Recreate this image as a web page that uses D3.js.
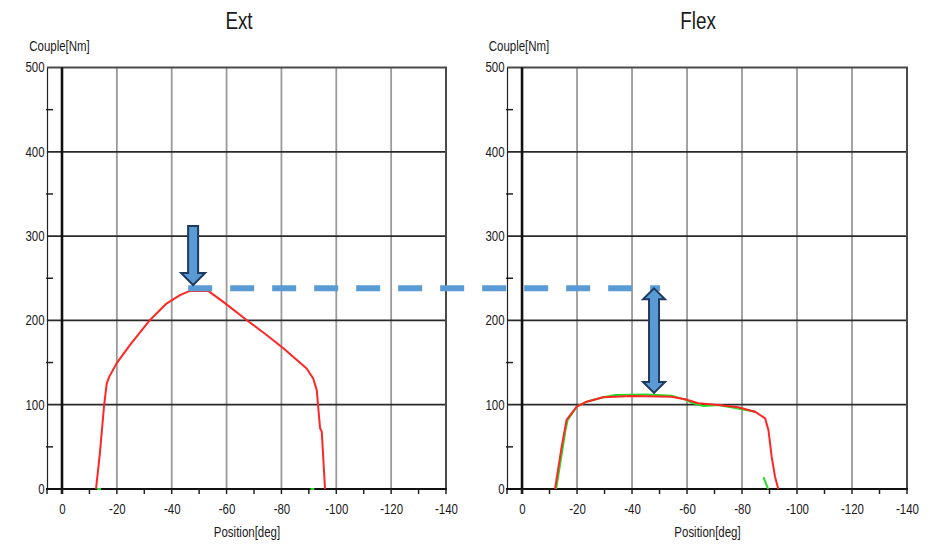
<!DOCTYPE html>
<html><head><meta charset="utf-8">
<script src="https://cdn.jsdelivr.net/npm/d3@7/dist/d3.min.js"></script>
<style>
body{margin:0;background:#fff}
svg{display:block}
text{font-family:"Liberation Sans",Arial,sans-serif;fill:#1a1a1a}
</style>
</head><body>
<svg id="chart" width="931" height="544"></svg>
<script>
// ---------- data ----------
const panelTitles = ["Ext", "Flex"];
const yLabel = "Couple[Nm]";
const xLabel = "Position[deg]";
const yTickValues = [0, 100, 200, 300, 400, 500];
const yMinorTicks = [50, 150, 250, 350, 450];
const xTickValues = [0, -20, -40, -60, -80, -100, -120, -140];
const xSmallTicks = [0, -10, -20, -30, -40, -50, -60, -70, -80, -90, -100, -110, -120, -130, -140];
const xGridValues = [-20, -40, -60, -80, -100, -120];

const extPosition = [-12.4, -13.8, -15.3, -16.3, -17.2, -19.9, -24.8, -32.1, -38.1, -43.0, -46.6, -53.3, -58.8, -67.3, -74.6, -80.7, -89.2, -91.6, -92.9, -93.4, -94.1, -94.7, -95.9];
const extTorque   = [0, 42, 97.6, 125, 133, 149, 171, 200.5, 220, 230, 235, 235, 222, 200.5, 182.7, 167, 143, 131, 117, 97.6, 72, 68, 0];

const flexPosition = [-12.0, -14.4, -16.2, -19.9, -23.5, -29.5, -39.9, -54.4, -59.3, -64.1, -71.4, -78.6, -84.7, -88.4, -89.6, -90.8, -92.0, -93.2];
const flexTorque   = [0, 50, 82, 97.6, 103.6, 108.8, 110.3, 109.5, 106.4, 101.7, 99.6, 97, 91.7, 83.8, 70, 38, 14.6, 0];

// second (green) trace, mostly hidden under the red one
const extGreenPosition = [-12.8, -14.2];
const extGreenTorque   = [0, 0];
const extGreenPosition2 = [-90.6, -92.0];
const extGreenTorque2   = [0, 0];
const flexGreenPosition = [-12.4, -14.6, -15.8, -16.6, -19.9, -23.5, -29.5, -34.0, -45.0, -54.4, -59.3, -62.0, -66.0, -71.4, -78.6, -84.7];
const flexGreenTorque   = [0, 45, 70, 82, 97.6, 103.6, 108.8, 111.5, 112, 110.5, 106, 102, 98.5, 99.6, 95.5, 91.7];
const flexGreenPosition2 = [-87.8, -89.5];
const flexGreenTorque2   = [14, 0];

// annotation values
const peakLineValue = [238];
const peakLineFrom = [-46.0];   // on Ext axis
const peakLineTo = [-50.2];     // on Flex axis
const downArrowX = [-47.8];
const downArrowTop = [312];
const downArrowTip = [242];
const diffArrowX = [-48.0];
const diffArrowTop = [238];
const diffArrowBottom = [114];

// ---------- layout ----------
const svg = d3.select("#chart");
const plotTop = 67.5, plotBottom = 489;
const squeeze = 0.82;
const panels = [
  {title: panelTitles[0], left: 47, right: 446, pos: extPosition, val: extTorque,
   green: [[extGreenPosition, extGreenTorque], [extGreenPosition2, extGreenTorque2]], titleX: 239, ylabX: 59.5},
  {title: panelTitles[1], left: 507, right: 907, pos: flexPosition, val: flexTorque,
   green: [[flexGreenPosition, flexGreenTorque], [flexGreenPosition2, flexGreenTorque2]], titleX: 698, ylabX: 519}
];

function label(x, yy, str, size) {
  svg.append("g").attr("transform", `translate(${x},${yy})`)
    .append("text").attr("text-anchor", "middle").attr("font-size", size)
    .attr("transform", `scale(${squeeze},1)`).text(str);
}

const y = d3.scaleLinear().domain([0, 500]).range([plotBottom, plotTop]);

panels.forEach(p => {
  const x = d3.scaleLinear().domain([5.47, -140]).range([p.left, p.right]);
  p.x = x;
  const g = svg.append("g");

  // vertical gray grid
  g.selectAll(".vg").data(xGridValues).enter().append("line")
    .attr("x1", d => x(d)).attr("x2", d => x(d))
    .attr("y1", plotTop).attr("y2", plotBottom)
    .attr("stroke", "#9a9a9a").attr("stroke-width", 1.8);

  // horizontal grid
  g.selectAll(".hg").data(yTickValues.filter(v => v > 0 && v < 500)).enter().append("line")
    .attr("x1", p.left).attr("x2", p.right)
    .attr("y1", d => y(d)).attr("y2", d => y(d))
    .attr("stroke", "#2a2a2a").attr("stroke-width", 1.8);

  // frame top / right
  g.append("line").attr("x1", p.left).attr("x2", p.right + 1).attr("y1", plotTop).attr("y2", plotTop)
    .attr("stroke", "#4a4a4a").attr("stroke-width", 2);
  g.append("line").attr("x1", p.right).attr("x2", p.right).attr("y1", plotTop).attr("y2", plotBottom)
    .attr("stroke", "#4a4a4a").attr("stroke-width", 2);

  // zero line
  g.append("line").attr("x1", x(0)).attr("x2", x(0)).attr("y1", plotTop).attr("y2", plotBottom + 5)
    .attr("stroke", "#111").attr("stroke-width", 2.6);

  // y axis
  const yAxis = d3.axisLeft(y).tickValues(yTickValues).tickFormat(d => String(d)).tickSize(0).tickPadding(3);
  const ya = g.append("g").attr("transform", `translate(${p.left},0)`).call(yAxis);
  ya.select(".domain").attr("stroke", "#222").attr("stroke-width", 1.2);
  ya.selectAll("text").attr("font-size", 14).attr("font-family", null).attr("fill", "#1a1a1a")
    .attr("transform", `scale(${squeeze},1)`);
  g.selectAll(".ym").data(yMinorTicks).enter().append("line")
    .attr("x1", p.left - 1).attr("x2", p.left + 6)
    .attr("y1", d => y(d)).attr("y2", d => y(d))
    .attr("stroke", "#222").attr("stroke-width", 1.5);

  // x axis
  const xa = g.append("g").attr("transform", `translate(0,${plotBottom})`)
    .call(d3.axisBottom(x).tickValues(xTickValues).tickFormat(d => String(d)).tickSize(0).tickPadding(15));
  xa.select(".domain").remove();
  xa.selectAll("text").attr("font-size", 14).attr("font-family", null).attr("fill", "#1a1a1a")
    .attr("transform", `scale(${squeeze},1)`);
  g.append("line").attr("x1", p.left - 1).attr("x2", p.right + 1).attr("y1", plotBottom).attr("y2", plotBottom)
    .attr("stroke", "#111").attr("stroke-width", 2);
  g.selectAll(".xm").data(xSmallTicks.concat([5.47])).enter().append("line")
    .attr("x1", d => x(d)).attr("x2", d => x(d))
    .attr("y1", plotBottom).attr("y2", plotBottom + 5)
    .attr("stroke", "#222").attr("stroke-width", 1.5);

  // labels
  label(p.titleX, 29, p.title, 23);
  label(p.ylabX, 51, yLabel, 14);
  label((x(0) + x(-140)) / 2 - 7, 537, xLabel, 14);

  // green trace
  const line = d3.line().x(d => x(d[0])).y(d => y(d[1]));
  p.green.forEach(([ps, vs]) => {
    g.append("path").datum(ps.map((v, i) => [v, vs[i]]))
      .attr("d", line).attr("fill", "none").attr("stroke", "#22dd22").attr("stroke-width", 2);
  });
  // red trace
  g.append("path").datum(p.pos.map((v, i) => [v, p.val[i]]))
    .attr("d", line).attr("fill", "none").attr("stroke", "#ff2626")
    .attr("stroke-width", 2).attr("stroke-linejoin", "round");
});

const xE = panels[0].x, xF = panels[1].x;

// dashed peak line
svg.append("line")
  .attr("x1", xE(peakLineFrom[0])).attr("x2", xF(peakLineTo[0]))
  .attr("y1", y(peakLineValue[0])).attr("y2", y(peakLineValue[0]))
  .attr("stroke", "#5b9bd5").attr("stroke-width", 6).attr("stroke-dasharray", "24,18");

const arrowFill = "#5b9bd5", arrowStroke = "#1f3a5f";
// down arrow
{
  const cx = xE(downArrowX[0]), y0 = y(downArrowTop[0]), tip = y(downArrowTip[0]);
  const sw = 5, hw = 12, hl = 12;
  const pts = [[cx - sw, y0], [cx + sw, y0], [cx + sw, tip - hl], [cx + hw, tip - hl], [cx, tip],
               [cx - hw, tip - hl], [cx - sw, tip - hl]];
  svg.append("path").attr("d", "M" + pts.join("L") + "Z")
    .attr("fill", arrowFill).attr("stroke", arrowStroke).attr("stroke-width", 2).attr("stroke-linejoin", "miter");
}
// double arrow
{
  const cx = xF(diffArrowX[0]), t = y(diffArrowTop[0]), b = y(diffArrowBottom[0]);
  const sw = 5, hw = 11, hl = 11;
  const pts = [[cx, t], [cx + hw, t + hl], [cx + sw, t + hl], [cx + sw, b - hl], [cx + hw, b - hl], [cx, b],
               [cx - hw, b - hl], [cx - sw, b - hl], [cx - sw, t + hl], [cx - hw, t + hl]];
  svg.append("path").attr("d", "M" + pts.join("L") + "Z")
    .attr("fill", arrowFill).attr("stroke", arrowStroke).attr("stroke-width", 2).attr("stroke-linejoin", "miter");
}
</script>
</body></html>
